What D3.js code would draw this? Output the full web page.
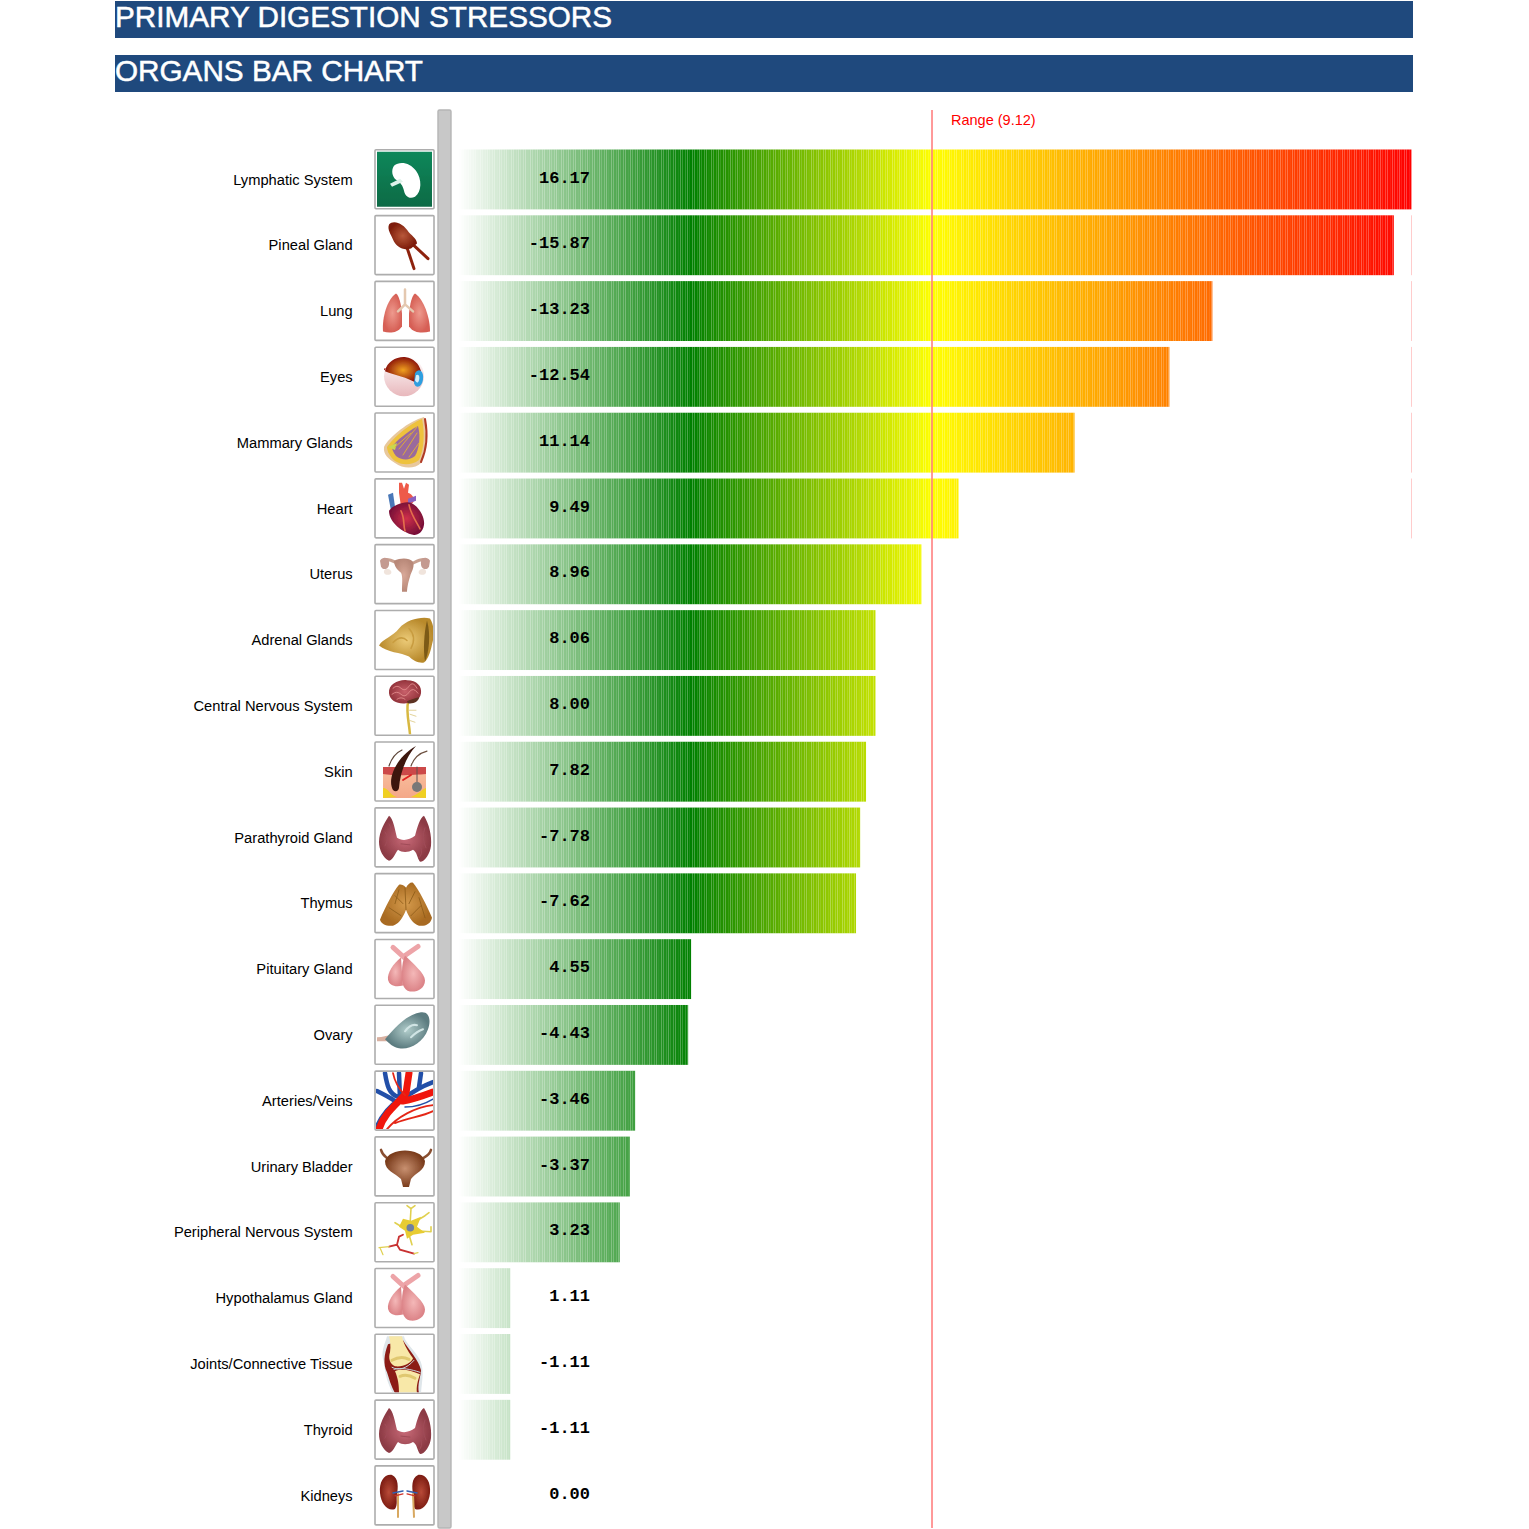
<!DOCTYPE html>
<html lang="en">
<head>
<meta charset="UTF-8">
<title>Organs Bar Chart</title>
<style>
  html, body { margin: 0; padding: 0; background: #fff; }
  svg { display: block; }
  .organ { font: 14.7px "Liberation Sans", Arial, sans-serif; fill: #000; }
  .value { font: bold 17px "Liberation Mono", "Courier New", monospace; fill: #000; }
  .title { font: 29.7px "Liberation Sans", Arial, sans-serif; fill: #fff; stroke: #fff; stroke-width: 0.5px; }
  .range { font: 14.5px "Liberation Sans", Arial, sans-serif; fill: #f00; }
</style>
</head>
<body>
<div id="chart"></div>
<script src="https://d3js.org/d3.v7.min.js"></script>
<script>

const titles = ["PRIMARY DIGESTION STRESSORS", "ORGANS BAR CHART"];

const organs = ["Lymphatic System", "Pineal Gland", "Lung", "Eyes", "Mammary Glands", "Heart", "Uterus",
  "Adrenal Glands", "Central Nervous System", "Skin", "Parathyroid Gland", "Thymus", "Pituitary Gland",
  "Ovary", "Arteries/Veins", "Urinary Bladder", "Peripheral Nervous System", "Hypothalamus Gland",
  "Joints/Connective Tissue", "Thyroid", "Kidneys"];

// printed numbers
const values = ["16.17", "-15.87", "-13.23", "-12.54", "11.14", "9.49", "8.96", "8.06", "8.00", "7.82",
  "-7.78", "-7.62", "4.55", "-4.43", "-3.46", "-3.37", "3.23", "1.11", "-1.11", "-1.11", "0.00"];

// drawn bar lengths, they do not follow the printed numbers exactly
const barLevels = [16.17, 15.87, 12.79, 12.06, 10.45, 8.48, 7.85, 7.07, 7.07, 6.91,
  6.81, 6.74, 3.94, 3.89, 2.99, 2.90, 2.73, 0.87, 0.87, 0.87, 0];

const rangeValue = 9.12;
const rangeLevel = 8.03;

const colorStops = [0, 3.94, 8.03, 16.17];
const colorRange = ["#ffffff", "#008000", "#ffff00", "#ff0000"];

const x = d3.scaleLinear().domain([0, 16.17]).range([459, 1411.5]);
const y = d3.scaleBand().domain(organs).range([149.5, 1525.5]).paddingInner(0.09);
const color = d3.scaleLinear().domain(colorStops).range(colorRange);

const svg = d3.select("#chart").append("svg").attr("width", 1529).attr("height", 1529);
const defs = svg.append("defs");

// gradients for the icons
function grad(id, c1, c2, vertical) {
  const g = defs.append("linearGradient").attr("id", id)
    .attr("x1", 0).attr("y1", 0).attr("x2", vertical ? 0 : 1).attr("y2", vertical ? 1 : 0);
  g.append("stop").attr("offset", "0%").attr("stop-color", c1);
  g.append("stop").attr("offset", "100%").attr("stop-color", c2);
}
function radial(id, c1, c2) {
  const g = defs.append("radialGradient").attr("id", id);
  g.append("stop").attr("offset", "0%").attr("stop-color", c1);
  g.append("stop").attr("offset", "100%").attr("stop-color", c2);
}
grad("gGreen", "#08875a", "#106a45", true);
radial("gPineal", "#b8583a", "#7d1c0a");
radial("gLung", "#ee9a8e", "#d65f55");
grad("gEye", "#ffffff", "#e8b8bc", true);
radial("gEyeIn", "#f0a020", "#8a1208");
radial("gHeart", "#d0304a", "#7a1038");
radial("gUterus", "#d8a898", "#b88878");
radial("gAdrenal", "#eccb78", "#b98a2c");
radial("gBrain", "#c8606a", "#94343c");
grad("gSkin", "#f8c0a0", "#f4a888", true);
radial("gThyroid", "#c86a78", "#8c3a44");
radial("gThymus", "#d49a4c", "#a86a20");
radial("gPit", "#f4b8b8", "#dc8488");
radial("gOvary", "#b0ccca", "#5c7c80");
radial("gBladder", "#c89070", "#7a3c1c");
radial("gKidney", "#b84a38", "#7c1c12");

defs.append("filter").attr("id", "soft").append("feGaussianBlur").attr("stdDeviation", 0.4);
defs.append("clipPath").attr("id", "iconClip").append("rect")
  .attr("x", 1).attr("y", 1).attr("width", 57).attr("height", 57);

const thyroidShapes = [
  ["M14,8 C18,10 20,22 22,30 C26,33 34,33 40,28 C42,20 45,10 49,8 C54,16 57,28 56,38 C55,46 50,54 45,54 C42,50 42,44 38,42 C33,45 27,45 23,42 C20,46 18,52 14,53 C8,50 4,42 4,34 C4,24 10,14 14,8 Z", "url(#gThyroid)"],
  ["M10,24 Q15,30 10,38 M50,20 Q46,30 51,40 M26,36 L35,37 M14,16 Q18,22 14,28 M46,40 Q48,46 44,50", "none", "#a04c58", 1]
];
const pituitaryShapes = [
  ["M18,8 L29,18 M43,7 L30,16", "none", "#eda4a8", 5],
  ["M26,18 C18,24 12,34 13,40 C14,46 20,48 28,46 Z", "url(#gPit)"],
  ["M30,16 C38,24 50,34 50,41 C50,49 42,53 35,52 C28,51 26,42 27,32 C27,26 28,20 30,16 Z", "url(#gPit)"]
];

// one list of shapes per organ, in the 60x60 box of the icon: [path, fill, stroke, strokeWidth]
const icons = [
  [["M2,2 H57 V57 H2 Z", "url(#gGreen)"],
   ["M19,16 C25,11 35,13 41,21 C47,29 47,42 40,47 C34,50 30,46 29,41 C28,36 25,32 21,30 C17,27 16,20 19,16 Z", "#fff"],
   ["M15,34 L25,29 L28,32 L17,37 Z", "#dff2ea"]],
  [["M38,29 L53,43 M32,32 L39,53", "none", "#8e2410", 3],
   ["M14,9 C18,4 28,7 34,17 C38,21 42,24 42,28 L36,33 C28,36 20,30 18,24 C16,19 12,14 14,9 Z", "url(#gPineal)"]],
  [["M21,12 C12,18 7,36 8,50 C14,52 22,52 27,45 L27,32 C26,22 24,14 21,12 Z", "url(#gLung)"],
   ["M40,12 C49,18 55,36 55,50 C48,52 39,52 34,45 L34,32 C35,22 37,14 40,12 Z", "url(#gLung)"],
   ["M30,8 V23 L23,30 M30,23 L38,30", "none", "#e4c8b0", 2.5]],
  [["M10,22 L20,24", "none", "#a01808", 2],
   ["M9,29 A20,20 0 1 1 49,29 A20,20 0 1 1 9,29 Z", "url(#gEye)"],
   ["M10,24 C12,14 22,9 31,10 C38,11 44,16 46,24 L42,36 C32,30 20,28 10,24 Z", "url(#gEyeIn)"],
   ["M40,26 C44,20 49,24 48,32 C47,40 41,42 39,36 Z", "#2f9fe0"],
   ["M41,28 C44,26 45,30 44,33 C43,37 41,35 40,33 Z", "#d8eef8"]],
  [["M49,4 C53,18 52,36 46,50 C40,56 28,56 20,50 C14,46 8,42 9,34 C14,24 34,8 49,4 Z", "#e8c89c"],
   ["M47,6 C50,20 49,36 44,47 C36,53 26,52 20,48 C15,44 12,38 12,34 C18,25 34,11 47,6 Z", "#eec23c"],
   ["M43,13 C46,24 44,36 40,43 C34,48 26,47 21,43 C18,39 17,36 17,34 C22,27 32,19 43,13 Z", "#9a6a9c"],
   ["M13,34 L22,30 L20,37 Z", "#c8d850"],
   ["M42,14 L24,36 M42,20 L28,42 M36,20 L20,34 M44,30 L34,44", "none", "#e4b030", 0.9],
   ["M50,6 C53,22 51,38 46,49", "none", "#b03a28", 2]],
  [["M13,16 L18,14 L20,28 L16,32 Z", "#4a78b8"],
   ["M24,4 L27,4 L29,10 L31,4 L34,6 L33,14 C38,16 40,20 38,24 L26,28 L24,14 Z", "#ee5a4a"],
   ["M33,20 L41,17 L41,22 L33,25 Z", "#8a60c0"],
   ["M14,32 C18,26 30,22 36,24 C44,28 50,38 49,46 C48,54 42,57 38,56 C28,54 14,44 14,32 Z", "url(#gHeart)"],
   ["M34,26 C36,36 42,44 45,50 M26,32 C30,40 28,46 30,52", "none", "#e4704c", 1.6]],
  [["M10,15 C16,14 20,18 25,20 M50,15 C44,14 40,18 35,20", "none", "#c8a090", 3],
   ["M5,16 C8,11 14,13 14,17 C15,24 9,27 6,22 Z M55,16 C52,11 46,13 46,17 C45,24 51,27 54,22 Z", "#c49a90"],
   ["M11,24 C7,26 9,31 14,30 C18,29 17,24 11,24 Z M49,24 C53,26 51,31 46,30 C42,29 43,24 49,24 Z", "#f0e4dc"],
   ["M19,16 C26,13 34,13 38,17 C40,23 36,27 35,32 C33,38 32,44 32,47 L27,47 C27,38 28,32 26,28 C22,25 19,21 19,16 Z", "url(#gUterus)"]],
  [["M4,35 C8,28 18,26 24,18 C32,9 46,6 55,8 C59,14 60,24 57,34 C55,44 52,50 49,52 C44,53 38,50 34,46 C26,42 12,42 4,35 Z", "url(#gAdrenal)"],
   ["M52,10 C56,24 54,42 50,51 C48,40 49,22 52,10 Z", "#7c5a18"],
   ["M18,32 Q26,24 32,30 M34,18 Q42,26 36,38", "none", "#c89c40", 1.5]],
  [["M33,26 C31,36 34,46 35,58", "none", "#d8b840", 2.5],
   ["M35,38 L41,40 M34,44 L40,46 M34,34 L41,34", "none", "#dcc880", 0.8],
   ["M14,17 C13,8 24,3 32,4 C42,4 47,10 46,17 C45,24 38,27 31,27 C23,28 15,25 14,17 Z", "url(#gBrain)"],
   ["M32,25 C36,23 40,22 44,21 C44,25 38,28 33,27 Z", "#5c3020"],
   ["M18,12 Q22,8 26,12 T34,10 T42,12 M17,18 Q22,14 26,18 T34,16 T43,17 M22,23 Q26,20 30,23", "none", "#e08a8a", 0.9]],
  [["M8,25 H51 V56 H8 Z", "url(#gSkin)"],
   ["M8,25 H51 V32 C40,33 20,34 8,32 Z", "#cc4a48"],
   ["M8,46 C14,46 14,53 22,55 L8,56 Z M51,46 C46,48 44,52 36,55 L51,56 Z", "#f0d020"],
   ["M14,24 Q18,12 27,8", "none", "#5c4438", 1.2],
   ["M18,48 C12,38 20,16 41,4 C30,16 25,32 24,46 C23,50 20,50 18,48 Z", "#3c1810"],
   ["M36,24 Q40,12 52,9", "none", "#6c5040", 1.2],
   ["M28,38 L36,33", "none", "#e02020", 1.8],
   ["M42,25 V40", "none", "#605050", 1],
   ["M37,45 A5,5 0 1 0 47,45 A5,5 0 1 0 37,45 Z", "#787878"]],
  thyroidShapes,
  [["M24,11 C28,10 30,13 31,14 C33,10 36,8 38,9 C44,16 52,32 57,44 C56,50 50,53 44,52 C38,50 34,44 31,36 C28,44 24,50 18,52 C12,53 6,50 5,46 C10,34 18,18 24,11 Z", "url(#gThymus)"],
   ["M30,14 L31,36 M20,22 L28,30 M14,34 L26,42 M24,16 L20,30 M40,18 L34,30 M46,32 L36,42 M44,24 L50,44", "none", "#8c5a18", 0.8]],
  pituitaryShapes,
  [["M2,32 C8,32 12,30 16,30 L16,36 C10,36 6,36 2,36 Z", "#d8b0a0"],
   ["M10,34 C20,22 32,9 46,7 C55,6 56,16 53,24 C48,38 34,45 24,43 C18,42 14,38 10,34 Z", "url(#gOvary)"],
   ["M30,26 Q36,18 42,20 M36,32 Q42,26 48,24", "none", "#d0e4e4", 2]],
  [["M2,55 C8,42 16,34 25,28 L24,2 M10,2 C12,14 14,24 24,26 M2,20 C10,24 14,26 20,30 M46,2 L44,16 M58,11 C50,14 38,20 28,28", "none", "#2450a8", 4.5],
   ["M4,58 C10,40 24,32 31,22 L34,2 M28,30 C40,28 50,24 58,21", "none", "#f01808", 7],
   ["M18,2 C20,12 24,18 30,24 M12,58 C22,46 40,36 58,34 M20,52 C34,46 46,46 58,40", "none", "#e42818", 1.8],
   ["M30,36 C38,36 48,34 58,28", "none", "#2450a8", 1.5]],
  [["M6,13 C8,20 12,20 14,23 M56,13 C54,20 48,20 46,23", "none", "#8a5030", 2.5],
   ["M10,24 C14,10 46,10 50,24 C50,34 40,36 36,42 L34,50 L28,50 L26,42 C20,36 10,34 10,24 Z", "url(#gBladder)"]],
  [["M35,22 L36,6 M35,22 L50,13 M40,28 L56,29 M34,32 L37,42 M30,26 L20,20 M36,6 L32,3 M36,6 L40,3 M50,13 L54,10 M56,29 L56,24", "none", "#e0d050", 1.6],
   ["M28,32 L24,34 L22,42 L14,44 M22,42 L25,47 L39,51", "none", "#c83030", 1.8],
   ["M14,44 L4,45 M5,45 L8,52 M39,51 L43,50", "none", "#e0d050", 1.2],
   ["M28,16 L36,18 L46,14 L42,24 L50,30 L38,32 L32,36 L30,28 L24,24 Z", "#e8cc30"],
   ["M31.5,25 A3.8,3.8 0 1 0 39.1,25 A3.8,3.8 0 1 0 31.5,25 Z", "#7080a0"]],
  pituitaryShapes,
  [["M12,2 C10,10 5,18 9,28 C10,42 14,52 18,59 L46,59 C47,46 50,34 44,24 C38,14 30,8 29,2 Z", "#dfe6ea"],
   ["M13,10 C9,20 8,30 12,38 C14,44 16,52 20,59 L44,59 C42,50 46,42 46,36 C44,26 34,16 28,6 Z", "#8c1c14"],
   ["M14,2 H27 C28,8 32,16 38,24 C36,29 28,33 20,32 C15,30 13,24 15,18 C16,12 15,6 14,2 Z", "#f8e8a8"],
   ["M20,37 C26,34 36,36 45,40 C43,46 41,52 42,59 L24,59 C24,50 23,44 20,37 Z", "#f8e8a8"],
   ["M17,26 Q26,21 34,25 M25,42 Q32,39 40,44", "none", "#e0c870", 3],
   ["M17,33 C24,37 32,34 39,26 M19,35 C26,33 36,35 45,38", "none", "#c8d4dc", 1]],
  thyroidShapes,
  [["M17,9 C9,8 4,16 5,27 C6,38 13,46 20,43 C23,38 21,34 22,28 C23,22 24,12 17,9 Z", "url(#gKidney)"],
   ["M43,9 C51,8 56,16 55,27 C54,38 47,46 40,43 C37,38 39,34 38,28 C37,22 36,12 43,9 Z", "url(#gKidney)"],
   ["M23,28 V51 M38,28 L39,51", "none", "#d8a860", 2],
   ["M18,27 L28,25 M32,25 L42,27", "none", "#3060b0", 1.5],
   ["M20,30 L28,28 M32,28 L40,30", "none", "#d03028", 1.2]]
];

// header bands
svg.selectAll(".titleBand").data(titles).join("rect")
  .attr("class", "titleBand")
  .attr("x", 115).attr("y", (d, i) => 1 + i * 54)
  .attr("width", 1298).attr("height", 37)
  .attr("fill", "#1f497d");
svg.selectAll(".title").data(titles).join("text")
  .attr("class", "title")
  .attr("x", 115).attr("y", (d, i) => 26.7 + i * 54)
  .text(d => d);

// grey divider
svg.append("rect")
  .attr("x", 438).attr("y", 110).attr("width", 13).attr("height", 1418).attr("rx", 1.5)
  .attr("fill", "#c8c8c8").attr("stroke", "#b5b5b5").attr("stroke-width", 1.4);

// every row shows the same ramp cut at its own length, the seams of the cells give the stripes
const cellCount = 400;
const cellWidth = (x.range()[1] - x.range()[0]) / cellCount;
const cellGap = 0.08;
const cells = d3.range(cellCount).map(i => x.invert(x.range()[0] + i * cellWidth));

const rows = svg.selectAll(".row").data(organs).join("g").attr("class", "row");

rows.each(function (organ, i) {
  const row = d3.select(this);
  const top = y(organ);
  const h = y.bandwidth();

  if (barLevels[i] > 0) {
    row.selectAll("rect").data(cells.filter(c => c < barLevels[i])).join("rect")
      .attr("x", c => x(c))
      .attr("y", top)
      .attr("width", c => Math.min(cellWidth - cellGap, x(barLevels[i]) - x(c)))
      .attr("height", h)
      .attr("fill", c => color(c + (16.17 / cellCount) / 2));
  }

  // faint end mark on rows over the range, shorter than the longest bar
  if (Math.abs(+values[i]) > rangeValue && barLevels[i] < x.domain()[1]) {
    row.append("rect")
      .attr("x", x(x.domain()[1]) - 0.5).attr("y", top)
      .attr("width", 1).attr("height", h)
      .attr("fill", "#f00").attr("opacity", 0.2);
  }

  row.append("text")
    .attr("class", "organ")
    .attr("x", 352.7)
    .attr("y", top + 35)
    .attr("text-anchor", "end")
    .text(organ);

  row.append("text")
    .attr("class", "value")
    .attr("x", 590)
    .attr("y", top + 33)
    .attr("text-anchor", "end")
    .text(values[i]);

  // icon box
  const icon = row.append("g").attr("transform", `translate(375,${top + 0.3})`);
  icon.append("rect")
    .attr("width", 59).attr("height", 59).attr("rx", 1)
    .attr("fill", "#fff").attr("stroke", "#adadad").attr("stroke-width", 1.6);
  icon.append("g")
    .attr("clip-path", "url(#iconClip)")
    .attr("filter", "url(#soft)")
    .selectAll("path").data(icons[i]).join("path")
    .attr("d", s => s[0])
    .attr("fill", s => s[1])
    .attr("stroke", s => s[2] || "none")
    .attr("stroke-width", s => s[3] || 0)
    .attr("stroke-linecap", "round");
});

// range marker
svg.append("line")
  .attr("x1", x(rangeLevel)).attr("x2", x(rangeLevel))
  .attr("y1", 110).attr("y2", 1528)
  .attr("stroke", "#ff8080").attr("stroke-width", 1.6);
svg.append("text")
  .attr("class", "range")
  .attr("x", x(rangeLevel) + 19).attr("y", 125)
  .text(`Range (${rangeValue})`);

</script>
</body>
</html>
